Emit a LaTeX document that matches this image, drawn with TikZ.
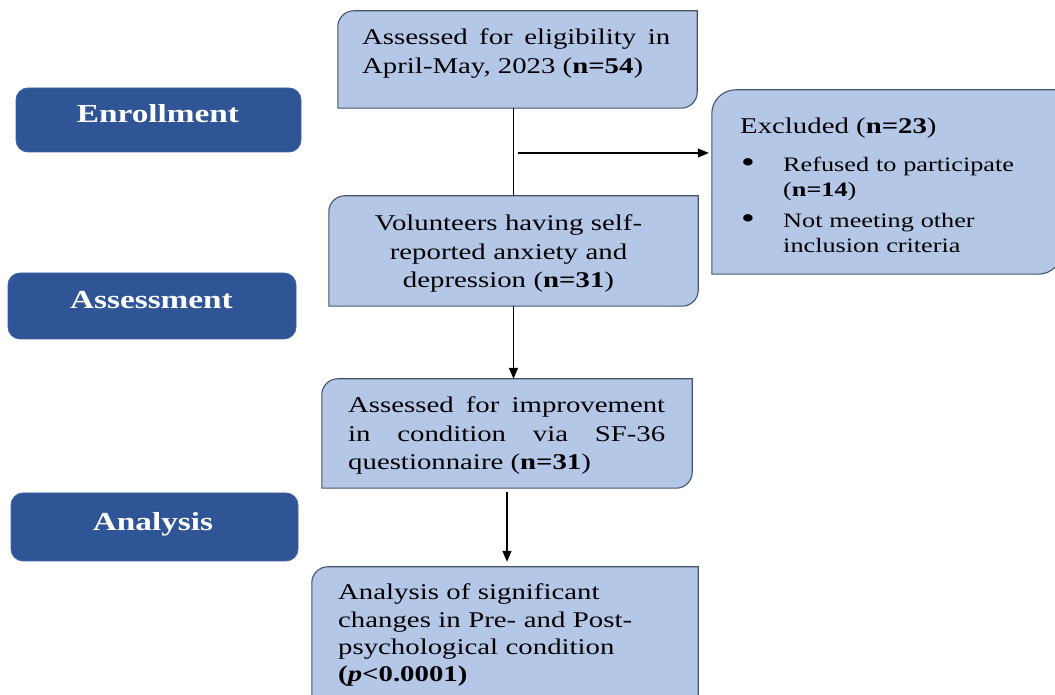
\documentclass[tikz,border=0pt]{standalone}
\usepackage{fontspec}
\setmainfont{Liberation Serif}[FakeStretch=1.28]
\usetikzlibrary{arrows.meta,calc}
\definecolor{lightfill}{HTML}{B4C7E7}
\definecolor{lightline}{HTML}{44546A}
\definecolor{darkfill}{HTML}{2F5597}
\definecolor{darkline}{HTML}{3C64A8}
\newcommand\diagbox[2]{%
  \draw[boxedge] ([yshift=-#2pt]#1.north west) arc[start angle=180,end angle=90,radius=#2pt]
    -- (#1.north east) -- ([yshift=#2pt]#1.south east) arc[start angle=0,end angle=-90,radius=#2pt]
    -- (#1.south west) -- cycle;}
\newcommand\bigbullet{\raisebox{-1pt}{\scalebox{1.5}{\textbullet}}}
\begin{document}
\begin{tikzpicture}[x=1pt,y=1pt,
  slot/.style={rectangle, inner sep=0pt, draw=none},
  boxedge/.style={fill=lightfill, draw=lightline, line width=1.1pt},
  phase/.style={rectangle, rounded corners=12pt, fill=darkfill, draw=darkline, line width=0.8pt, inner sep=0pt},
  phasetext/.style={inner sep=0pt, text=white, font=\fontsize{26pt}{30pt}\selectfont\bfseries, anchor=base},
  bodytext/.style={inner sep=0pt, font=\fontsize{22.5pt}{28.3pt}\selectfont},
  listtext/.style={inner sep=0pt, font=\fontsize{20.5pt}{25pt}\selectfont},
  conn/.style={draw=black, line width=1.2pt},
  arr/.style={conn, -{Triangle[length=11pt,width=9pt]}}
]
\useasboundingbox (0,0) rectangle (1055,695);
\clip (0,0) rectangle (1055,695);

% phase labels
\node[phase, minimum width=285pt, minimum height=64pt] (enr) at (158.5,575) {};
\node[phasetext] (enrT) at (158,572) {Enrollment};
\node[phase, minimum width=288pt, minimum height=66pt] (ass) at (152,389) {};
\node[phasetext] (assT) at (151.5,386) {Assessment};
\node[phase, minimum width=287pt, minimum height=68pt] (ana) at (154.5,168) {};
\node[phasetext] (anaT) at (153,164) {Analysis};

% flow boxes
\node[slot, minimum width=359pt, minimum height=97pt] (b1) at (517.5,635.5) {};
\diagbox{b1}{16}
\node[bodytext, text width=308pt, align=justify, anchor=base west] (b1T) at (362,650)
  {Assessed for eligibility in\linebreak April-May, 2023 (\textbf{n=54})};

\node[slot, minimum width=369pt, minimum height=110pt] (b2) at (513.5,444) {};
\diagbox{b2}{16}
\node[bodytext, text width=330pt, align=center, anchor=base] (b2T) at (508.5,464)
  {Volunteers having self-\\reported anxiety and\\depression (\textbf{n=31})};

\node[slot, minimum width=370pt, minimum height=109pt] (b3) at (507,261.5) {};
\diagbox{b3}{16}
\node[bodytext, text width=317pt, align=justify, anchor=base west] (b3T) at (348,282)
  {Assessed for improvement\linebreak in condition via SF-36\linebreak questionnaire (\textbf{n=31})};

\node[slot, minimum width=386pt, minimum height=145pt] (b4) at (505,55.5) {};
\diagbox{b4}{16}
\node[bodytext, font=\fontsize{22.5pt}{27.3pt}\selectfont, text width=355pt, align=left, anchor=base west] (b4T) at (338,95)
  {Analysis of significant\\changes in Pre- and Post-\\psychological condition\\\textbf{(\textit{p}<0.0001)}};

\node[slot, minimum width=350pt, minimum height=184pt] (ex) at (887,513) {};
\diagbox{ex}{24}
\node[bodytext, anchor=base west] (exT) at (740,561) {Excluded (\textbf{n=23})};
\node[listtext, text width=305pt, align=left, anchor=base west] (exL) at (741,523)
  {\makebox[42pt][l]{\bigbullet}Refused to participate\\
   \hspace*{42pt}(\textbf{n=14})\\[6pt]
   \makebox[42pt][l]{\bigbullet}Not meeting other\\
   \hspace*{42pt}inclusion criteria};

% connectors
\coordinate (split) at (518,542);
\draw[conn] (b1.south -| b2.north) -- (b2.north);
\draw[arr, shorten >=3pt] (split) -- (split -| ex.west);
\draw[arr] (b2.south) -- (b2.south |- b3.north);
\draw[arr] ([yshift=-4pt]b3.south) -- ([yshift=5pt]b3.south |- b4.north);
\end{tikzpicture}
\end{document}
